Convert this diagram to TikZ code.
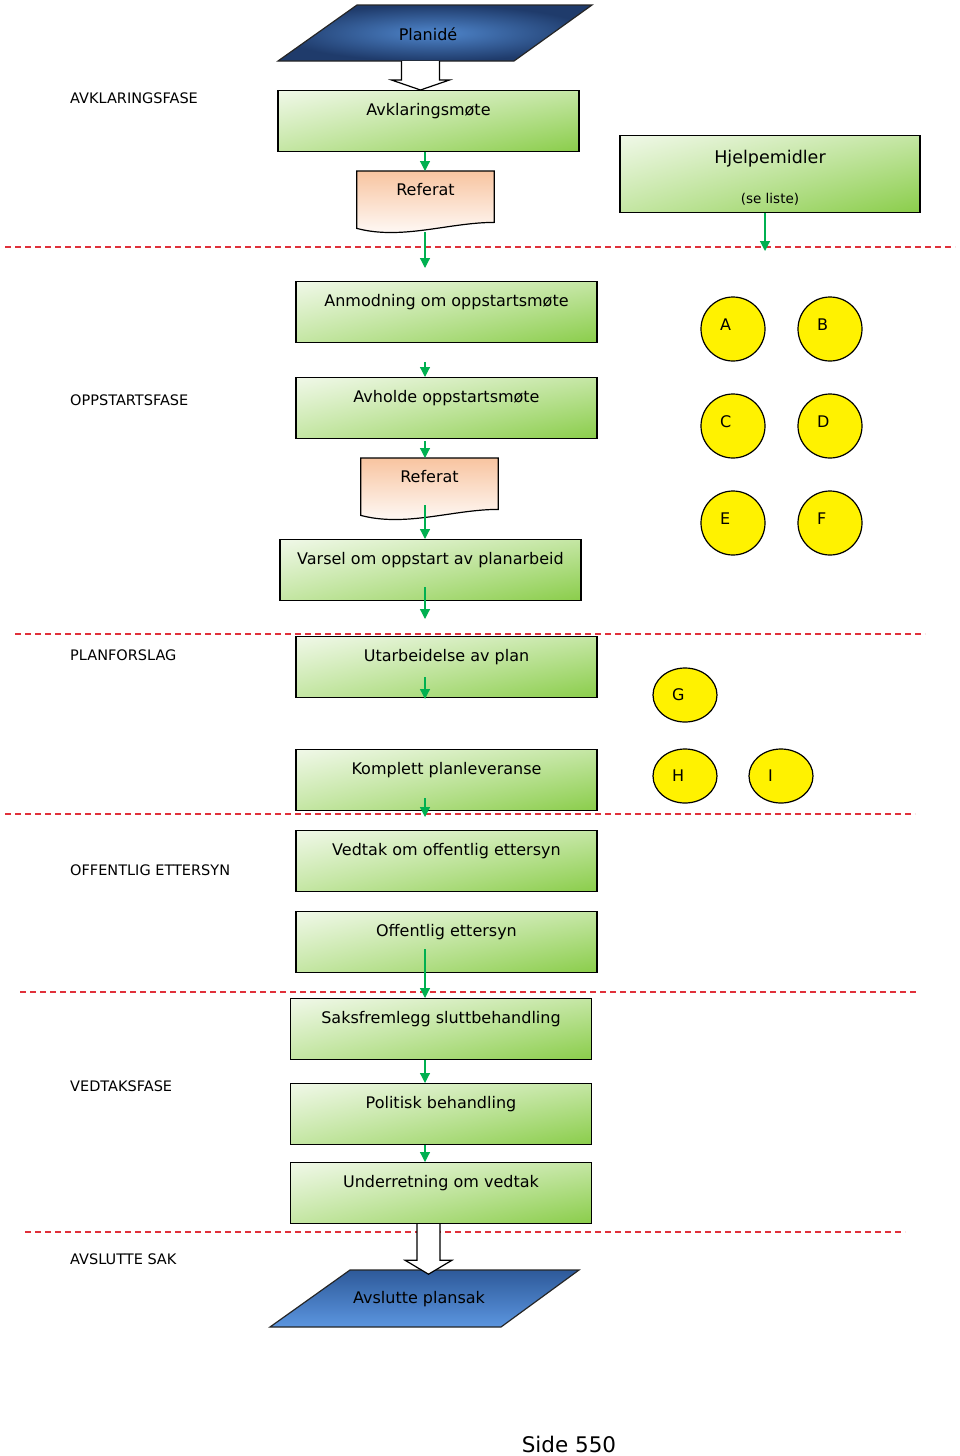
\documentclass[tikz,border=0pt]{standalone}
\usepackage{fontspec}
\setmainfont{DejaVu Sans}
\usepackage{xcolor}
\usetikzlibrary{positioning,calc,shapes.geometric,shadings,backgrounds,arrows.meta}

\definecolor{boxlight}{HTML}{F0F8E8}
\definecolor{boxmid}{HTML}{C4E6A3}
\definecolor{boxdark}{HTML}{8ACD4A}
\definecolor{docpeach}{HTML}{F8C4A0}
\definecolor{navydark}{HTML}{1F3B6B}
\definecolor{navylight}{HTML}{4F86CC}
\definecolor{endblue}{HTML}{2E5A9A}
\definecolor{endlight}{HTML}{5B95DF}
\definecolor{flowgreen}{HTML}{00B050}
\definecolor{phasered}{HTML}{E0303A}

\begin{document}
\begin{tikzpicture}[x=1pt, y=1pt,
            node distance=97pt,
            stage/.style={rectangle, draw, line width=1.2pt, anchor=north, minimum width=301pt, inner ysep=0pt, text height=25pt, text depth=36pt, upper left=boxlight, upper right=boxmid, lower left=boxmid, lower right=boxdark, font=\fontsize{16}{19}\selectfont},
            helper/.style={rectangle, draw, line width=1.2pt, anchor=north, minimum width=300pt, minimum height=77pt, align=center, upper left=boxlight, upper right=boxmid, lower left=boxmid, lower right=boxdark, font=\fontsize{17.5}{21}\selectfont},
            doc/.style={rectangle, anchor=north, minimum width=137pt, inner ysep=0pt, text height=24pt, text depth=33pt, font=\fontsize{16}{19}\selectfont},
            docshape/.style={draw, line width=1.2pt, top color=docpeach, bottom color=white},
            gate/.style={font=\fontsize{16}{19}\selectfont},
            token/.style={circle, draw, line width=1.2pt, fill=yellow, minimum size=64pt, text width=26pt, align=left, text height=12pt, text depth=10pt, font=\fontsize{16}{19}\selectfont},
            oval/.style={ellipse, draw, line width=1.2pt, fill=yellow, minimum width=64pt, minimum height=54pt, text width=26pt, align=left, font=\fontsize{16}{19}\selectfont},
            phase/.style={anchor=west, inner sep=0pt, font=\fontsize{14.5}{17}\selectfont},
            phaseline/.style={draw=phasered, dash pattern=on 6pt off 4pt, line width=1.1pt},
            flow/.style={draw=flowgreen, line width=1.2pt, -{Triangle[length=10pt,width=10pt]}},
            hollow/.style={draw, line width=1.2pt, fill=white}
        ]
            \useasboundingbox (0,0) rectangle (960,-1456);
            \coordinate (spine) at (425,0);

            \draw[phaseline] (5,-247) -- (955,-247);
            \draw[phaseline] (15,-634) -- (925,-634);
            \draw[phaseline] (5,-814) -- (915,-814);
            \draw[phaseline] (20,-992) -- (918,-992);
            \draw[phaseline] (25,-1232) -- (905,-1232);

            \node[phase] (p1) at (70,-98) {AVKLARINGSFASE};
            \node[phase] (p2) at (70,-400) {OPPSTARTSFASE};
            \node[phase] (p3) at (70,-655) {PLANFORSLAG};
            \node[phase] (p4) at (70,-870) {OFFENTLIG ETTERSYN};
            \node[phase] (p5) at (70,-1086) {VEDTAKSFASE};
            \node[phase] (p6) at (70,-1259) {AVSLUTTE SAK};

            \node[gate] (plan) at (428,-34) {Planidé};
            \node[stage] (avk) at (428.5,-90) {Avklaringsmøte};
            \node[doc] (ref1) at (425.5,-171) {Referat};
            \node[helper] (hjelp) at (770,-135) {\rule{0pt}{21pt}Hjelpemidler\\[19pt]{\fontsize{13.5}{16}\selectfont (se liste)}};
            \coordinate (hjelp-end) at (765,-251);

            \node[stage] (anm) at (446.5,-281) {Anmodning om oppstartsmøte};
            \node[stage] (avh) at (446.5,-377) {Avholde oppstartsmøte};
            \node[doc] (ref2) at (429.5,-458) {Referat};
            \node[stage] (var) at (430.5,-539) {Varsel om oppstart av planarbeid};
            \node[stage] (utar) at (446.5,-636) {Utarbeidelse av plan};
            \node[stage] (komp) at (446.5,-749) {Komplett planleveranse};
            \node[stage] (ved) at (446.5,-830) {Vedtak om offentlig ettersyn};
            \node[stage] (off) at (446.5,-911) {Offentlig ettersyn};
            \node[stage] (saks) at (441,-998) {Saksfremlegg sluttbehandling};
            \node[stage] (pol) at (441,-1083) {Politisk behandling};
            \node[stage] (und) at (441,-1162) {Underretning om vedtak};
            \node[gate] (avs) at (419,-1299) {Avslutte plansak};

            \node[token] (A) at (733,-329) {A};
            \node[token, right of=A] (B) {B};
            \node[token, below of=A] (C) {C};
            \node[token, right of=C] (D) {D};
            \node[token, below of=C] (E) {E};
            \node[token, right of=E] (F) {F};
            \node[oval] (G) at (685,-695) {G};
            \node[oval, node distance=81pt, below of=G] (H) {H};
            \node[oval, node distance=96pt, right of=H] (I) {I};

            \node (side) at (569,-1444) {\fontsize{21.5}{24}\selectfont Side 550};

            \begin{scope}[on background layer]
                \shade[draw=black!85, line width=1.2pt, inner color=navylight, outer color=navydark] ($(plan)+(-71,29)$) -- ($(plan)+(164,29)$) -- ($(plan)+(86,-27)$) -- ($(plan)+(-150,-27)$) -- cycle;
                \shade[draw=black!85, line width=1.2pt, top color=endblue, bottom color=endlight] ($(avs)+(-69,29)$) -- ($(avs)+(160,29)$) -- ($(avs)+(82,-28)$) -- ($(avs)+(-149,-28)$) -- cycle;
                \shade[docshape] (ref1.north west) -- (ref1.north east) -- ($(ref1.south east)+(0,6)$) .. controls ($(ref1.south east)+(-45,6)$) and ($(ref1.south west)+(45,-12)$) .. (ref1.south west) -- cycle;
                \shade[docshape] (ref2.north west) -- (ref2.north east) -- ($(ref2.south east)+(0,6)$) .. controls ($(ref2.south east)+(-45,6)$) and ($(ref2.south west)+(45,-12)$) .. (ref2.south west) -- cycle;
            \end{scope}

            \draw[hollow] ($(avk.north)+(-27,29)$) -- ++(0,-19) -- ++(-10,0) -- ++(29,-10) -- ++(29,10) -- ++(-10,0) -- ++(0,19);
            \draw[hollow] ($(und.south)+(-24,0)$) -- ++(0,-36) -- ++(-12,0) -- ++(23.5,-14) -- ++(23.5,14) -- ++(-12,0) -- ++(0,36);

            \draw[flow] (avk.south -| spine) -- (ref1.north -| spine);
            \draw[flow] ($(ref1.south -| spine)+(0,-4)$) -- ($(anm.north -| spine)+(0,13)$);
            \draw[flow] (hjelp.south -| hjelp-end) -- (hjelp-end);
            \draw[flow] ($(anm.south -| spine)+(0,-19)$) -- (avh.north -| spine);
            \draw[flow] ($(avh.south -| spine)+(0,-2)$) -- (ref2.north -| spine);
            \draw[flow] ($(ref2.south -| spine)+(0,10)$) -- (var.north -| spine);
            \draw[flow] ($(var.south -| spine)+(0,14)$) -- ($(utar.north -| spine)+(0,17)$);
            \draw[flow] ($(utar.south -| spine)+(0,21)$) -- ($(komp.north -| spine)+(0,50)$);
            \draw[flow] ($(komp.south -| spine)+(0,13)$) -- ($(ved.north -| spine)+(0,13)$);
            \draw[flow] ($(off.south -| spine)+(0,24)$) -- (saks.north -| spine);
            \draw[flow] (saks.south -| spine) -- (pol.north -| spine);
            \draw[flow] (pol.south -| spine) -- (und.north -| spine);
        \end{tikzpicture}
\end{document}
